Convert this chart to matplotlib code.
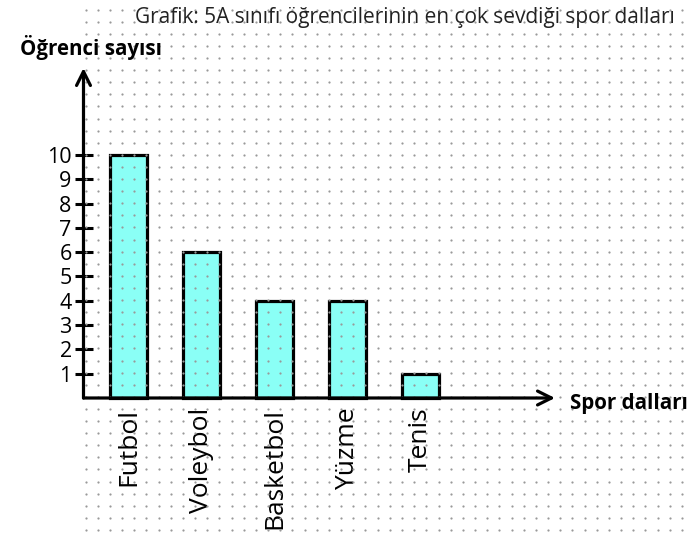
import matplotlib
matplotlib.use('Agg')
import matplotlib.pyplot as plt
import numpy as np

plt.rcParams['font.family'] = ['Open Sans', 'DejaVu Sans']

sports = ['Futbol', 'Voleybol', 'Basketbol', 'Yüzme', 'Tenis']
counts = [10, 6, 4, 4, 1]
yticks = [1, 2, 3, 4, 5, 6, 7, 8, 9, 10]

title = 'Grafik: 5A sınıfı öğrencilerinin en çok sevdiği spor dalları'
ylabel = 'Öğrenci sayısı'
xlabel = 'Spor dalları'

W, H = 696, 542
fig = plt.figure(figsize=(W / 100, H / 100), dpi=100)

# main axes, placed so the axis lines sit where they do in the picture
ax = fig.add_axes([83.5 / W, 144 / H, 471.5 / W, 330 / H])
ax.set_xlim(-0.616, 5.842)
ax.set_ylim(0, 13.58)
for s in ax.spines.values():
    s.set_visible(False)
ax.patch.set_alpha(0)

x = np.arange(len(sports))
ax.bar(x, counts, width=0.5, color='#8afff6', edgecolor='black',
       linewidth=2.3, zorder=1, clip_on=False)

# dotted paper grid (figure coords)
cols = np.linspace(85.5, 682, 50)
rows = np.arange(9.6, 534, 12.1)
gx, gy = np.meshgrid(cols, rows)
ax.plot(gx.ravel() / W, 1 - gy.ravel() / H, linestyle='none', marker='o',
        markersize=1.6, color='#999999', markeredgewidth=0,
        transform=fig.transFigure, clip_on=False, zorder=2)

# axes with open arrow heads
arrow = dict(arrowstyle='->,head_length=1.0,head_width=0.5',
             lw=2.3, color='black', shrinkA=0, shrinkB=0)
ax.annotate('', xy=(0, 1), xytext=(0, 0), xycoords='axes fraction',
            arrowprops=arrow, zorder=3)
ax.annotate('', xy=(1, 0), xytext=(0, 0), xycoords='axes fraction',
            arrowprops=arrow, zorder=3)

ax.set_yticks(yticks)
ax.set_yticklabels([str(v) for v in yticks])
ax.tick_params(axis='y', direction='inout', length=13, width=2.2,
               labelsize=15.5, pad=2)
ax.set_xticks(x)
ax.set_xticklabels(sports, rotation=90, va='top', ha='center')
ax.tick_params(axis='x', length=0, labelsize=19, pad=7)

fig.text(405 / W, 1 - 17 / H, title, ha='center', va='center',
         fontsize=15, color='#222222')
fig.text(91.5 / W, 1 - 48 / H, ylabel, ha='center', va='center',
         fontsize=14.8, fontweight='bold')
fig.text(570 / W, 1 - 403 / H, xlabel, ha='left', va='center',
         fontsize=14.8, fontweight='bold')

fig.savefig('out.png', dpi=100, facecolor='white')
